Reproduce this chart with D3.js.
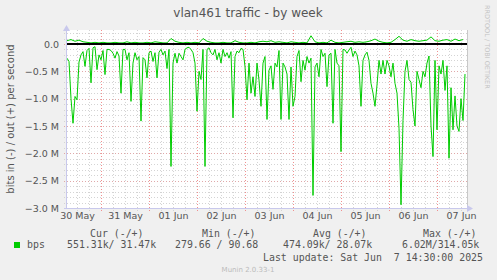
<!DOCTYPE html>
<html>
<head>
<meta charset="utf-8">
<script src="https://cdn.jsdelivr.net/npm/d3@7"></script>
<style>
  body { margin: 0; background: #f0f0f0; }
  svg { display: block; }
  .mono { font-family: "DejaVu Sans Mono", monospace; font-size: 9.9px; fill: #555; }
</style>
</head>
<body>
<svg width="497" height="280"></svg>
<script>
// hours after 30 May 07:00 UTC, one value per hour, in M bit/s
const inBps = [
  0.26,0.32,1.0,1.45,0.96,1.02,0.33,0.2,0.14,0.41,
  0.12,0.08,0.71,0.07,0.05,0.47,0.2,0.29,0.12,0.56,
  0.1,0.1,0.12,0.17,0.26,0.14,0.22,0.9,0.1,0.1,
  0.29,0.16,1.05,0.35,0.16,0.29,0.23,1.41,0.25,0.29,
  0.62,0.16,0.13,0.32,0.16,0.62,0.15,0.1,0.2,0.13,
  0.45,0.1,2.24,0.35,0.17,0.35,0.17,0.23,0.29,0.1,
  0.07,0.06,0.1,0.16,0.35,1.23,0.5,0.65,0.1,2.24,
  0.1,0.07,0.16,0.2,0.1,0.29,0.16,0.35,0.1,0.23,
  0.16,0.26,0.14,1.35,0.23,0.13,0.16,0.08,0.1,0.41,
  1.02,0.35,0.9,0.6,0.96,0.35,0.66,1.14,0.35,0.23,
  1.38,0.48,0.4,0.83,0.35,0.42,0.12,1.38,0.35,0.42,
  0.55,1.38,0.42,1.14,0.96,0.23,0.12,0.69,0.3,0.48,
  0.23,0.35,0.26,2.77,0.42,0.35,0.6,0.1,0.23,0.17,
  0.78,0.2,0.17,1.45,0.1,0.35,0.4,1.97,0.1,0.11,
  0.17,0.11,0.06,0.23,0.13,0.2,0.4,1.14,0.3,0.2,
  0.15,0.3,0.72,0.9,1.14,0.75,0.3,0.55,0.3,0.55,
  0.3,0.4,0.6,0.35,0.72,0.9,1.54,2.94,1.4,0.5,
  0.3,0.65,0.7,1.2,1.5,0.5,0.65,0.8,0.5,0.6,
  0.35,0.22,1.5,2.06,0.3,1.57,0.4,0.55,0.3,0.85,
  0.4,2.09,0.8,1.57,0.95,1.5,1.6,1.0,1.4,0.55
];
// one value every 2 hours
const outBps = [
  0.06,0.08,0.05,0.07,0.04,0.03,0.02,0.03,
  0.02,0.03,0.02,0.02,0.03,0.02,0.02,0.04,0.02,0.03,0.02,0.02,0.03,0.02,0.04,0.03,0.02,0.02,
  0.1,0.05,0.03,0.02,0.03,0.02,0.03,0.02,
  0.1,0.05,
  0.03,0.02,0.02,0.03,0.02,0.02,0.06,0.03,
  0.02,0.02,0.03,0.02,0.04,
  0.05,0.04,0.06,0.03,0.04,0.03,0.02,0.04,0.03,0.02,0.03,0.02,
  0.15,0.04,0.02,0.03,0.02,0.07,0.03,0.02,0.03,0.04,0.05,0.03,0.04,0.03,0.04,
  0.06,0.09,0.05,0.03,0.02,0.03,0.08,0.14,0.07,0.05,0.08,0.06,0.05,0.06,
  0.07,0.13,0.06,0.05,0.07,0.08,0.05,0.09,0.06,0.08
];
const yTicks = [0, -0.5, -1.0, -1.5, -2.0, -2.5, -3.0];
const dayLabels = ["30 May","31 May","01 Jun","02 Jun","03 Jun","04 Jun","05 Jun","06 Jun","07 Jun"];
const legendHead = ["Cur (-/+)", "Min (-/+)", "Avg (-/+)", "Max (-/+)"];
const legendVals = ["551.31k/ 31.47k", "279.66 / 90.68", "474.09k/ 28.07k", "6.02M/314.05k"];

const t0 = Date.UTC(2025, 4, 30, 7, 0);
const t1 = Date.UTC(2025, 5, 7, 15, 0);
const H = 3600e3;

const svg = d3.select("svg");
const x = d3.scaleUtc().domain([t0, t1]).range([67, 467]);
const y = d3.scaleLinear().domain([-3.0, 0.25]).range([208, 30.3]);

// plot background
svg.append("rect").attr("x", 67).attr("y", 30).attr("width", 400).attr("height", 178).attr("fill", "#fff");

// horizontal grid
const grid = svg.append("g");
for (let i = -30; i <= 2; i++) {
  let v = i / 10;
  let major = i % 5 === 0;
  grid.append("line")
    .attr("x1", 64).attr("x2", 467)
    .attr("y1", Math.round(y(v)) + 0.5).attr("y2", Math.round(y(v)) + 0.5)
    .attr("stroke", major ? "#e0a8a8" : "#d4d4d4")
    .attr("stroke-dasharray", "1,2");
}
// vertical grid: minor every 6 h, major at midnight
const vt = d3.utcHour.every(6).range(new Date(t0), new Date(t1));
vt.forEach(d => {
  let major = d.getUTCHours() === 0;
  grid.append("line")
    .attr("x1", Math.round(x(d)) + 0.5).attr("x2", Math.round(x(d)) + 0.5)
    .attr("y1", 30).attr("y2", 211)
    .attr("stroke", major ? "#f09090" : "#d4d4d4")
    .attr("stroke-dasharray", "1,2");
});

// right border
svg.append("line").attr("x1", 467.5).attr("x2", 467.5).attr("y1", 30).attr("y2", 208)
  .attr("stroke", "#c8c8c8");

// data lines
const hours = inBps.map((d, i) => t0 + i * H);
const line = d3.line().x(d => x(d[0])).y(d => y(d[1]));
svg.append("path")
  .attr("d", line(inBps.map((d, i) => [hours[i], -d])))
  .attr("fill", "none").attr("stroke", "#00cc00").attr("stroke-width", 1);
svg.append("path")
  .attr("d", line(outBps.map((d, i) => [t0 + i * 2 * H, d])))
  .attr("fill", "none").attr("stroke", "#00cc00").attr("stroke-width", 1);

// zero line
svg.append("line").attr("x1", 67).attr("x2", 467).attr("y1", y(0)).attr("y2", y(0))
  .attr("stroke", "#000").attr("stroke-width", 2);

// axes frame with arrows
const axc = "#c8c8ec";
svg.append("line").attr("x1", 66.5).attr("x2", 66.5).attr("y1", 27).attr("y2", 209).attr("stroke", axc);
svg.append("line").attr("x1", 64).attr("x2", 470).attr("y1", 208.5).attr("y2", 208.5).attr("stroke", axc);
svg.append("path").attr("d", "M63,31 L66.5,25 L70,31 Z").attr("fill", axc);
svg.append("path").attr("d", "M467,205 L473,208.5 L467,212 Z").attr("fill", axc);

// y axis labels
const yAxis = d3.axisLeft(y).tickValues(yTicks).tickSize(0).tickPadding(8)
  .tickFormat(v => v === 0 ? "0.0" : d3.format(".1f")(v) + " M");
svg.append("g").attr("transform", "translate(67,0)").call(yAxis)
  .call(g => g.select(".domain").remove())
  .selectAll("text").attr("font-family", "DejaVu Sans").attr("font-size", "9.5px").attr("fill", "#555");

// x axis labels at noon
const noons = dayLabels.map((d, i) => new Date(Date.UTC(2025, 4, 30 + i, 12)));
const xAxis = d3.axisBottom(x).tickValues(noons).tickSize(0).tickPadding(4)
  .tickFormat((d, i) => dayLabels[i]);
svg.append("g").attr("transform", "translate(0,208)").call(xAxis)
  .call(g => g.select(".domain").remove())
  .selectAll("text").attr("font-family", "DejaVu Sans").attr("font-size", "9.5px").attr("fill", "#555");

// title
svg.append("text").attr("x", 248).attr("y", 17).attr("text-anchor", "middle")
  .attr("font-family", "DejaVu Sans").attr("font-size", "12px").attr("fill", "#555")
  .text("vlan461 traffic - by week");

// y title
svg.append("text").attr("transform", "translate(14,119) rotate(-90)").attr("text-anchor", "middle")
  .attr("font-family", "DejaVu Sans").attr("font-size", "10px").attr("fill", "#555")
  .text("bits in (-) / out (+) per second");

// watermark
svg.append("text").attr("transform", "translate(485,5) rotate(90)")
  .attr("font-family", "DejaVu Sans").attr("font-size", "6.5px").attr("fill", "#c4c4c4")
  .text("RRDTOOL / TOBI OETIKER");

// legend
svg.append("rect").attr("x", 14).attr("y", 242).attr("width", 6).attr("height", 6).attr("fill", "#00cc00");
svg.append("text").attr("class", "mono").attr("x", 27).attr("y", 248).text("bps");
const headX = [90, 202, 313, 423];
const valX = [67, 175, 283, 402];
legendHead.forEach((t, i) => {
  svg.append("text").attr("class", "mono").attr("x", headX[i]).attr("y", 237)
    .attr("xml:space", "preserve").text(t);
});
legendVals.forEach((t, i) => {
  svg.append("text").attr("class", "mono").attr("x", valX[i]).attr("y", 248)
    .attr("xml:space", "preserve").text(t);
});
svg.append("text").attr("class", "mono").attr("x", 483).attr("y", 261).attr("text-anchor", "end")
  .attr("xml:space", "preserve").text("Last update: Sat Jun  7 14:30:00 2025");
svg.append("text").attr("x", 248).attr("y", 272).attr("text-anchor", "middle")
  .attr("font-family", "DejaVu Sans").attr("font-size", "7px").attr("fill", "#bbb")
  .text("Munin 2.0.33-1");
</script>
</body>
</html>
